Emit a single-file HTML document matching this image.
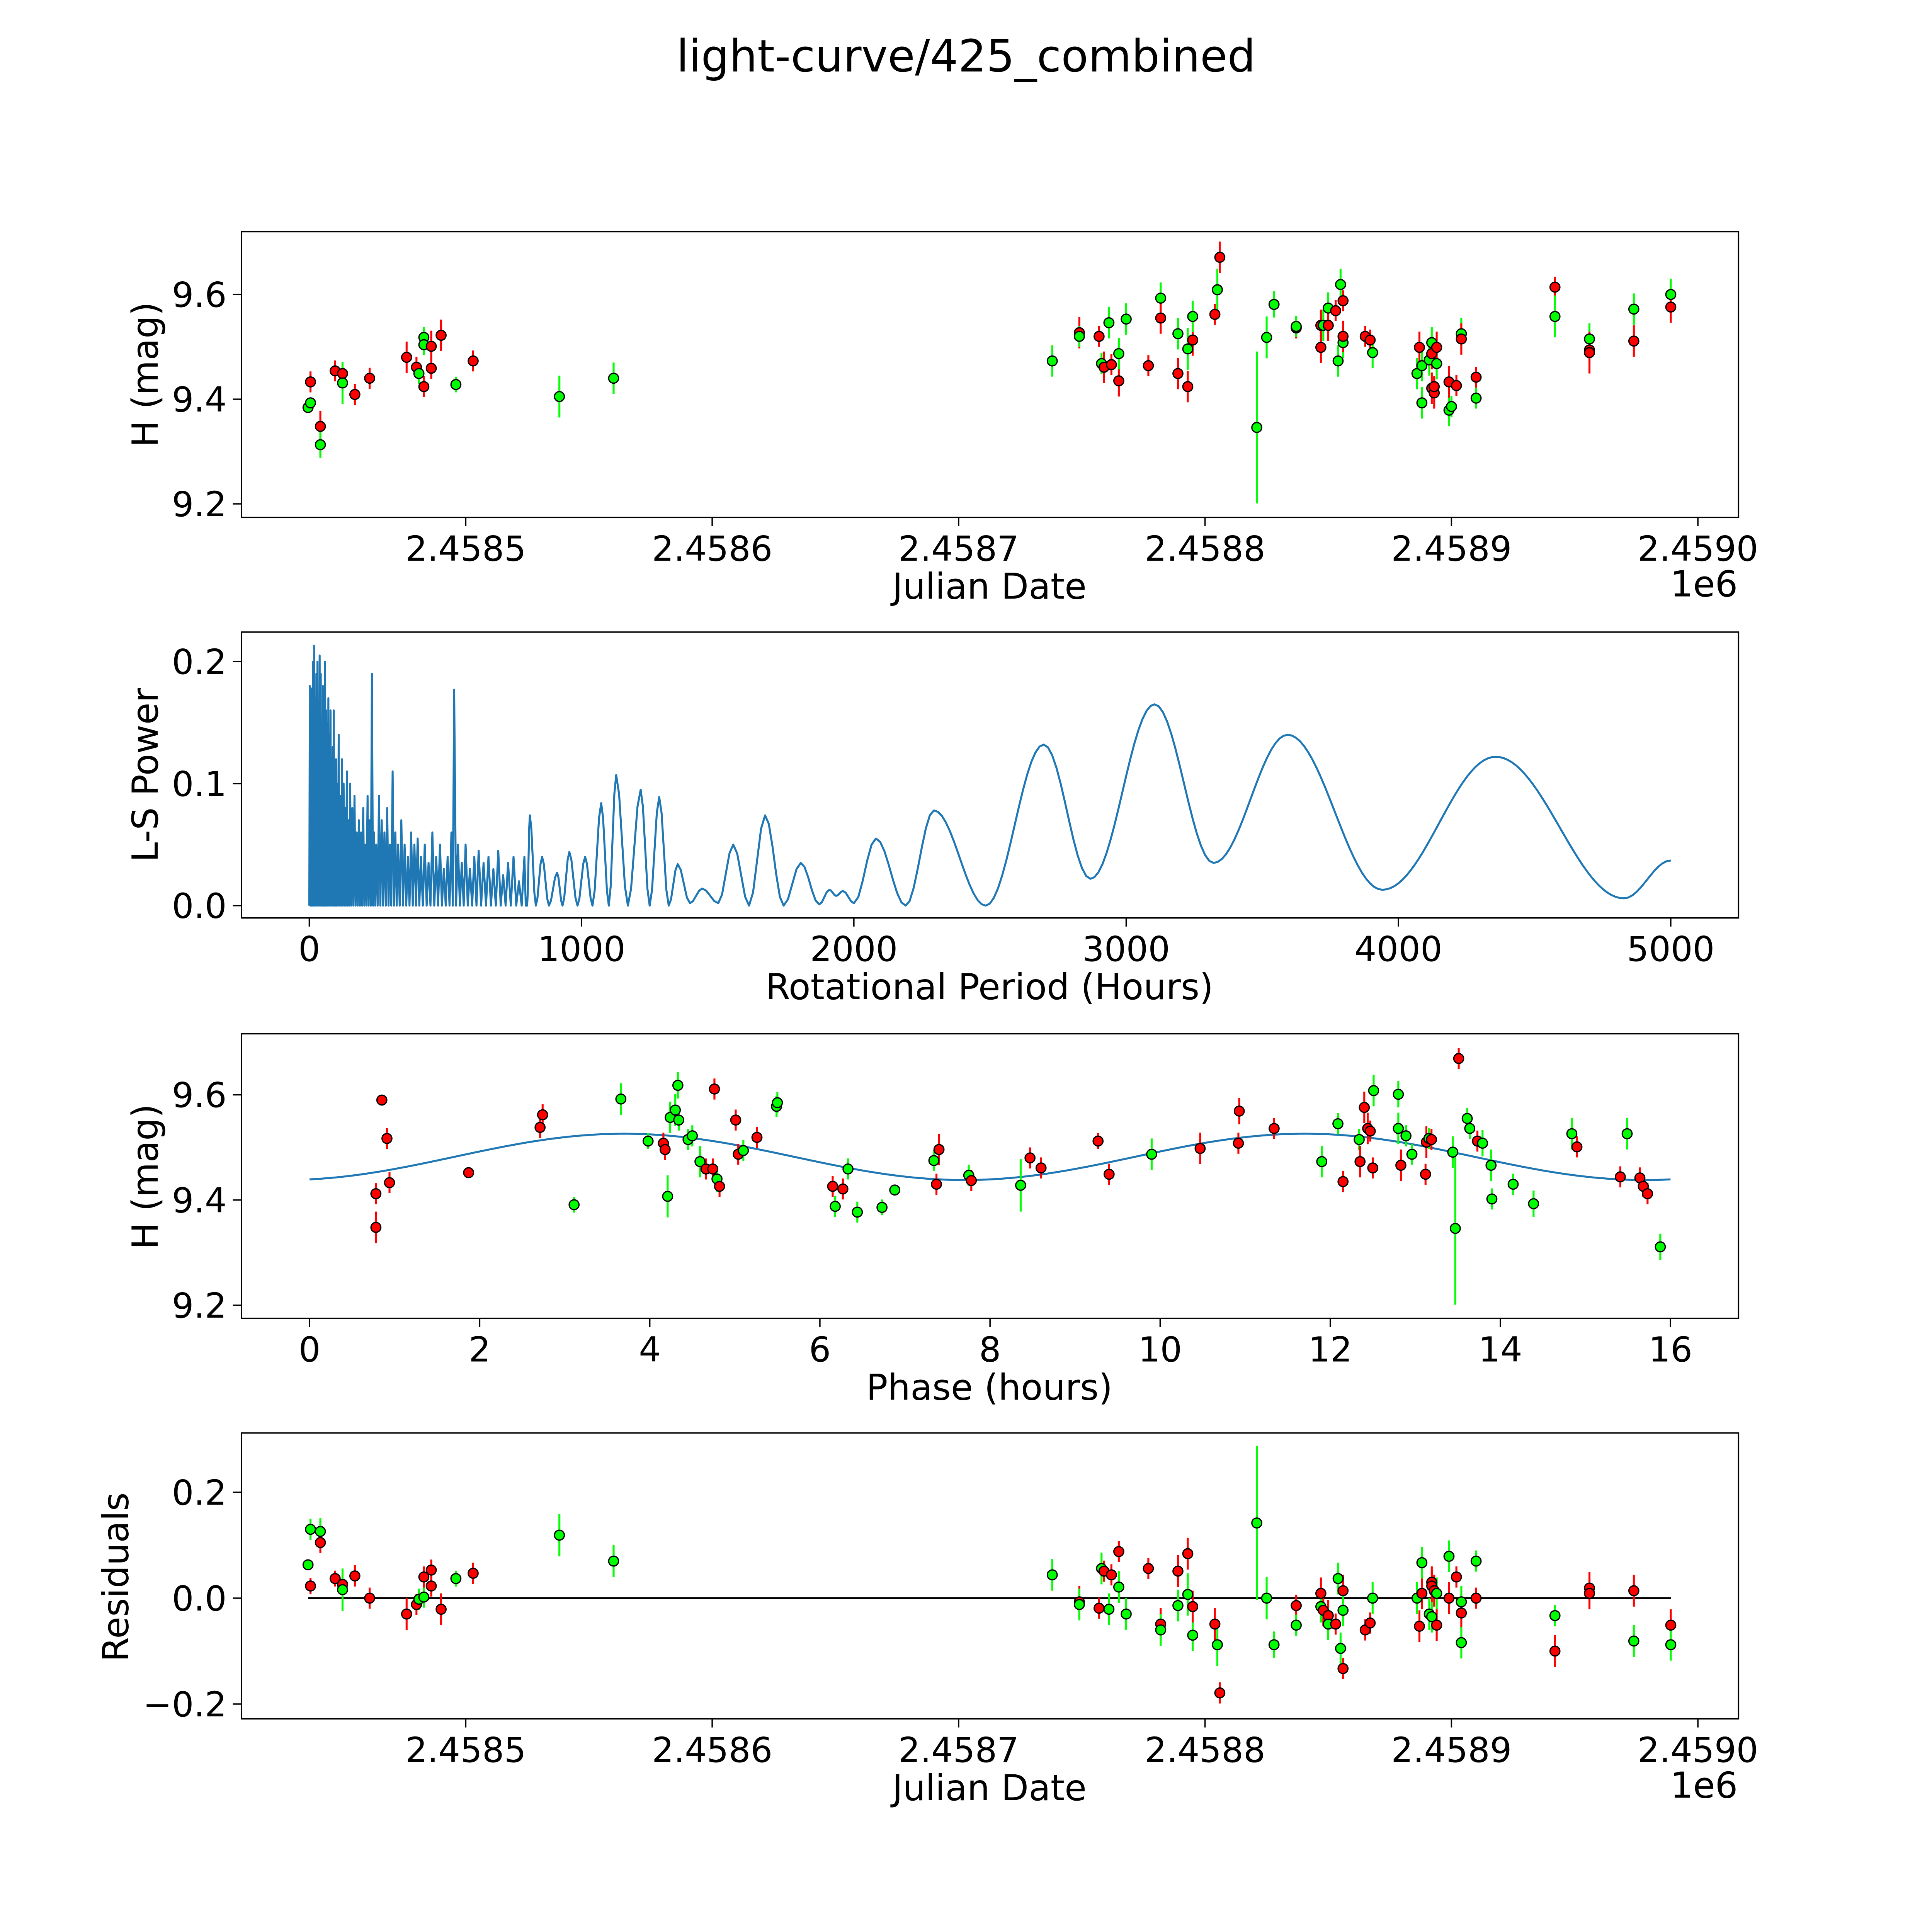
<!DOCTYPE html>
<html><head><meta charset="utf-8">
<style>
html,body{margin:0;padding:0;background:#fff;overflow:hidden;width:100vw;height:100vh;}
svg{display:block;width:100vw;height:100vh;}
text{font-family:"DejaVu Sans","Liberation Sans",sans-serif;fill:#000;}
</style></head>
<body>
<svg id="fig" xmlns="http://www.w3.org/2000/svg" viewBox="0 0 1568 1568" preserveAspectRatio="xMidYMid meet">
<rect x="0" y="0" width="1568" height="1568" fill="#fff"/>
<text x="784" y="58" font-size="36" text-anchor="middle">light-curve/425_combined</text>
</svg>
<script>
// ---- Panel 1: light curve (JD - 2458000) ----
const p1Jd=[436,437,437,441,441,447,450,450,455,461,476,480,481,483,483,483,486,486,490,496,503,538,560,738,749,749,757,758,759,761,762,765,765,768,777,782,782,789,789,793,793,795,795,804,805,806,821,825,828,837,837,847,847,848,850,850,853,854,855,856,856,856,865,867,868,886,887,888,888,891,892,892,892,893,893,894,894,899,900,899,902,904,904,910,910,942,942,956,956,956,974,974,989,989];
const p1Mag=[9.384,9.393,9.433,9.348,9.313,9.454,9.449,9.431,9.409,9.440,9.480,9.461,9.449,9.424,9.518,9.504,9.459,9.501,9.522,9.428,9.473,9.405,9.440,9.473,9.527,9.520,9.520,9.468,9.461,9.546,9.466,9.435,9.487,9.553,9.464,9.593,9.555,9.525,9.449,9.496,9.424,9.513,9.558,9.562,9.609,9.671,9.346,9.518,9.581,9.536,9.539,9.541,9.499,9.541,9.574,9.541,9.569,9.473,9.619,9.588,9.508,9.520,9.520,9.513,9.489,9.449,9.499,9.464,9.393,9.475,9.421,9.508,9.487,9.412,9.424,9.468,9.499,9.379,9.386,9.433,9.426,9.525,9.515,9.402,9.442,9.614,9.558,9.515,9.494,9.489,9.572,9.511,9.600,9.576];
const p1Col="ggrrgrrgrrrrgrggrrrgrgggrgrgrgrrggrgrgrgrrgrgrgggrgrrggrrggrgrrrggrgggrgrrrgrggrrgrgrrggrrgrgr";
const p1Err=[.01,.01,.02,.03,.025,.02,.02,.04,.02,.02,.03,.02,.02,.02,.02,.02,.02,.03,.03,.015,.02,.04,.03,.03,.03,.02,.02,.02,.03,.03,.02,.03,.03,.03,.02,.03,.03,.03,.03,.04,.03,.03,.03,.02,.04,.03,.145,.04,.025,.02,.02,.03,.03,.03,.03,.03,.02,.03,.03,.02,.03,.03,.02,.02,.03,.03,.03,.03,.03,.03,.03,.03,.03,.03,.02,.03,.03,.03,.02,.03,.02,.03,.03,.02,.02,.02,.04,.03,.03,.04,.03,.03,.03,.03];
const p1XTicks=[500,600,700,800,900,1000];
const p1XLabels=["2.4585","2.4586","2.4587","2.4588","2.4589","2.4590"];
const magTicks=[9.2,9.4,9.6];
const magLabels=["9.2","9.4","9.6"];

// ---- Panel 2: Lomb-Scargle periodogram ----
const lsSpikeP=[2,6,10,14,18,22,26,30,34,38,42,46,50,54,58,62,66,70,74,78,82,86,90,94,98,102,108,114,120,126,132,138,144,150,158,166,174,182,190,198,206,214,222,230,238,246,256,266,276,286,296,306,316,326,338,350,362,374,386,398,410,424,438,452,466,480,494,508,522,532,546,560,574,590,606,622,640,658,676,694,712,730,750,770,790];
const lsSpikeV=[.18,.16,.178,.2,.213,.17,.19,.2,.16,.205,.19,.15,.18,.14,.2,.16,.15,.17,.14,.16,.12,.13,.16,.11,.12,.1,.14,.09,.12,.1,.08,.11,.07,.1,.08,.09,.06,.07,.06,.08,.05,.09,.07,.19,.06,.05,.09,.07,.06,.08,.05,.11,.06,.05,.07,.05,.04,.06,.05,.055,.04,.05,.035,.06,.04,.05,.03,.04,.06,.177,.05,.035,.05,.03,.04,.045,.035,.04,.03,.045,.025,.035,.04,.02,.04];
const lsExtP=[800,810,832,855,880,910,930,955,985,1013,1040,1072,1100,1127,1170,1217,1250,1285,1320,1353,1398,1443,1502,1557,1615,1674,1742,1805,1873,1910,1935,1960,2000,2081,2190,2294,2484,2697,2869,3104,3321,3593,3941,4357,4828,5000];
const lsExtV=[0,.074,0,.04,0,.027,0,.044,0,.04,0,.084,0,.107,0,.095,0,.089,0,.034,.002,.014,.002,.05,0,.074,0,.035,.001,.013,.008,.012,.002,.055,0,.078,0,.132,.022,.165,.035,.14,.013,.122,.006,.037];
const lsXTicks=[0,1000,2000,3000,4000,5000];
const lsYTicks=[0,0.1,0.2];
const lsYLabels=["0.0","0.1","0.2"];

// ---- Panel 3: phased light curve ----
const phPhase=[.78,.78,.85,.91,.94,1.87,2.71,2.74,3.11,3.66,3.98,4.16,4.18,4.21,4.24,4.30,4.33,4.34,4.76,4.45,4.50,4.59,4.66,4.74,4.79,4.82,5.01,5.04,5.10,5.26,5.49,5.50,6.15,6.18,6.27,6.33,6.44,6.73,6.88,7.34,7.37,7.40,7.75,7.78,8.36,8.47,8.60,9.27,9.40,9.90,10.47,10.92,10.93,11.34,11.90,12.09,12.15,12.34,12.35,12.40,12.44,12.47,12.51,12.50,12.80,12.80,12.83,12.89,12.96,13.12,13.13,13.16,13.19,13.44,13.47,13.51,13.61,13.64,13.73,13.79,13.89,13.90,14.15,14.39,14.84,14.90,15.41,15.49,15.64,15.68,15.73,15.88];
const phMag=[9.412,9.348,9.590,9.517,9.433,9.452,9.538,9.562,9.391,9.592,9.512,9.508,9.496,9.407,9.557,9.571,9.618,9.552,9.611,9.515,9.522,9.473,9.459,9.459,9.440,9.426,9.552,9.487,9.494,9.519,9.578,9.585,9.426,9.388,9.421,9.459,9.377,9.386,9.419,9.475,9.430,9.496,9.447,9.437,9.428,9.480,9.461,9.512,9.449,9.487,9.498,9.508,9.569,9.536,9.473,9.545,9.435,9.515,9.473,9.576,9.536,9.531,9.608,9.461,9.601,9.536,9.466,9.522,9.487,9.449,9.510,9.517,9.515,9.491,9.346,9.669,9.555,9.536,9.512,9.508,9.466,9.402,9.430,9.393,9.526,9.501,9.444,9.526,9.442,9.426,9.412,9.311];
const phCol="rrrrrrrrgggrrgggggrgggrrgrrrgrggrgrgggggrrgrgrrrrgrrrrggrgrrrrgrggrggrrgrggrggrggggggrrgrrrg";
const phErr=[.02,.03,.01,.02,.02,.01,.02,.02,.015,.03,.015,.02,.02,.04,.03,.03,.025,.02,.02,.02,.02,.03,.02,.02,.025,.02,.02,.02,.02,.02,.02,.02,.02,.02,.02,.02,.02,.015,.01,.02,.02,.03,.02,.02,.05,.02,.02,.015,.02,.03,.03,.02,.025,.02,.03,.02,.02,.02,.03,.03,.03,.02,.03,.02,.025,.03,.03,.02,.02,.02,.03,.02,.02,.03,.145,.02,.02,.02,.02,.025,.03,.02,.02,.025,.03,.02,.02,.03,.02,.02,.02,.025];
const phModelMean=[9.482];
const phModelAmp=[0.044];
const phModelPeak=[3.7];
const phModelPeriod=[8];
const phXTicks=[0,2,4,6,8,10,12,14,16];

// ---- Panel 4: residuals ----
const resJd=[436,437,437,441,441,447,450,450,455,461,476,480,481,483,483,486,486,490,496,503,538,560,738,749,749,757,758,759,761,762,765,765,768,777,782,782,789,789,793,793,795,795,804,805,806,821,825,828,837,837,847,847,848,850,850,854,853,855,856,856,856,865,867,868,886,887,888,888,891,892,892,892,893,894,894,899,899,902,904,904,904,910,910,942,942,956,956,974,974,989,989];
const resVal=[.063,.130,.023,.126,.105,.037,.026,.016,.042,0,-.030,-.012,-.002,.002,.040,.053,.023,-.021,.037,.047,.119,.070,.044,-.007,-.012,-.019,.056,.051,-.021,.044,.088,.021,-.030,.056,-.049,-.060,.051,-.014,.084,.007,-.070,-.016,-.049,-.088,-.179,.142,0,-.088,-.014,-.051,.009,-.016,-.023,-.033,-.049,.037,-.049,-.095,.014,-.023,-.133,-.060,-.047,0,0,-.053,.009,.067,-.030,.030,-.035,.023,.014,.009,-.051,.079,0,.040,-.028,-.007,-.084,0,.070,-.033,-.100,.019,.009,.014,-.081,-.051,-.088];
const resCol="ggrgrrrgrrrrggrrrrgrgggrgrgrgrrggrrgrgrggrrgrgggrgrgrrggrgrgrrrggrrggrgrrgrgrrrggrggrrrrgrg";
const resErr=[.01,.02,.015,.025,.02,.015,.02,.04,.02,.02,.03,.02,.02,.02,.02,.02,.02,.03,.015,.02,.04,.03,.03,.03,.03,.02,.03,.02,.03,.02,.02,.03,.03,.02,.03,.03,.03,.03,.03,.04,.03,.03,.03,.04,.02,.145,.04,.025,.02,.02,.03,.03,.03,.03,.03,.03,.02,.03,.03,.03,.02,.02,.02,.03,.03,.03,.03,.03,.03,.03,.03,.03,.03,.03,.03,.03,.03,.02,.03,.03,.03,.02,.02,.02,.03,.03,.03,.03,.03,.03,.03];
const resYTicks=[-0.2,0,0.2];
const resYLabels=["\u22120.2","0.0","0.2"];

const NS="http://www.w3.org/2000/svg";
const svg=document.getElementById('fig');
function mk(tag,attrs,parent){const e=document.createElementNS(NS,tag);for(const k in attrs)e.setAttribute(k,attrs[k]);(parent||svg).appendChild(e);return e;}
function lin(d0,d1,r0,r1){return v=>r0+(v-d0)*(r1-r0)/(d1-d0);}

const L=196,R=1411;
const FS=28;
const AX=[{t:188,b:420},{t:513,b:745},{t:839,b:1070},{t:1163,b:1395}];
const jdX=lin(409,1016.5,L,R);
const p1Y=lin(9.174,9.72,420,188);
const lsX=lin(-249,5249,L,R);
const lsY=lin(-0.0101,0.2242,745,513);
const phX=lin(-0.8,16.8,L,R);
const phY=lin(9.175,9.716,1070,839);
const resY=lin(-0.228,0.312,1395,1163);

function frame(i,name){
  const a=AX[i];
  const r=mk('rect',{x:L,y:a.t,width:R-L,height:a.b-a.t,fill:'none',stroke:'#000','stroke-width':1.1});
  
  
}
function xticks(i,vals,labels,sx,name){
  const a=AX[i];
  const g=mk('g',{});
  
  
  vals.forEach((v,k)=>{
    const x=sx(v);
    mk('line',{x1:x,x2:x,y1:a.b,y2:a.b+7,stroke:'#000','stroke-width':1.1},g);
    const t=mk('text',{x:x,y:a.b+35,'font-size':FS,'text-anchor':'middle'},g);
    t.textContent=labels[k];
    
    
  });
}
function yticks(i,vals,labels,sy,name){
  const a=AX[i];
  const g=mk('g',{});
  
  
  vals.forEach((v,k)=>{
    const y=sy(v);
    mk('line',{x1:L-7,x2:L,y1:y,y2:y,stroke:'#000','stroke-width':1.1},g);
    const t=mk('text',{x:L-12,y:y+10,'font-size':FS,'text-anchor':'end'},g);
    t.textContent=labels[k];
    
    
  });
}
function label(txt,x,y,rot,name){
  const t=mk('text',{x:x,y:y,'font-size':29,'text-anchor':'middle',transform:rot?`rotate(-90 ${x} ${y})`:''});
  t.textContent=txt;
  
  
}
function points(xs,ys,cols,errs,sx,sy,name){
  const g=mk('g',{});
  
  
  xs.forEach((xv,k)=>{
    const c=cols[k]==='r'?'#ff0000':'#00ff00';
    const x=sx(xv);
    mk('line',{x1:x,x2:x,y1:sy(ys[k]-errs[k]),y2:sy(ys[k]+errs[k]),stroke:c,'stroke-width':1.6},g);
  });
  xs.forEach((xv,k)=>{
    const c=cols[k]==='r'?'#ff0000':'#00ff00';
    const p=mk('circle',{cx:sx(xv),cy:sy(ys[k]),r:4,fill:c,stroke:'#000','stroke-width':1},g);
    
    
  });
}

// Panel 1
frame(0,'light-curve');
xticks(0,p1XTicks,p1XLabels,jdX,'light-curve');
yticks(0,magTicks,magLabels,p1Y,'light-curve');
points(p1Jd,p1Mag,p1Col,p1Err,jdX,p1Y,'light-curve-points');
label('Julian Date',803,486,false,'light-curve-x-title');
label('H (mag)',128,304,true,'light-curve-y-title');
label('1e6',1383,484,false,'light-curve-offset-text');

// Panel 2
frame(1,'periodogram');
xticks(1,lsXTicks,lsXTicks.map(String),lsX,'periodogram');
yticks(1,lsYTicks,lsYLabels,lsY,'periodogram');
label('Rotational Period (Hours)',803,811,false,'periodogram-x-title');
label('L-S Power',128,629,true,'periodogram-y-title');
(function(){
  let d=`M${lsX(0)},${lsY(0)}`;
  for(let k=0;k<lsSpikeP.length;k++){
    d+=` L${lsX(lsSpikeP[k]).toFixed(2)},${lsY(lsSpikeV[k]).toFixed(2)}`;
    const nx=k+1<lsSpikeP.length?(lsSpikeP[k]+lsSpikeP[k+1])/2:lsSpikeP[k]+5;
    d+=` L${lsX(nx).toFixed(2)},${lsY(0).toFixed(2)}`;
  }
  for(let k=0;k<lsExtP.length;k++){
    if(k===0){d+=` L${lsX(lsExtP[0]).toFixed(2)},${lsY(lsExtV[0]).toFixed(2)}`;continue;}
    const p0=lsExtP[k-1],p1=lsExtP[k],v0=lsExtV[k-1],v1=lsExtV[k];
    const n=Math.max(4,Math.round((p1-p0)/15));
    for(let s=1;s<=n;s++){
      const f=s/n, e=(1-Math.cos(Math.PI*f))/2;
      d+=` L${lsX(p0+(p1-p0)*f).toFixed(2)},${lsY(v0+(v1-v0)*e).toFixed(2)}`;
    }
  }
  const path=mk('path',{d:d,fill:'none',stroke:'#1f77b4','stroke-width':1.6,'stroke-linejoin':'round'});
  
  
})();

// Panel 3
frame(2,'phase-plot');
xticks(2,phXTicks,phXTicks.map(String),phX,'phase-plot');
yticks(2,magTicks,magLabels,phY,'phase-plot');
label('Phase (hours)',803,1136,false,'phase-plot-x-title');
label('H (mag)',128,955,true,'phase-plot-y-title');
(function(){
  let d='';
  for(let s=0;s<=320;s++){
    const ph=16*s/320;
    const m=phModelMean[0]+phModelAmp[0]*Math.cos(2*Math.PI*(ph-phModelPeak[0])/phModelPeriod[0]);
    d+=(s?' L':'M')+phX(ph).toFixed(2)+','+phY(m).toFixed(2);
  }
  const path=mk('path',{d:d,fill:'none',stroke:'#1f77b4','stroke-width':1.6});
  
  
})();
points(phPhase,phMag,phCol,phErr,phX,phY,'phase-points');

// Panel 4
frame(3,'residuals');
xticks(3,p1XTicks,p1XLabels,jdX,'residuals');
yticks(3,resYTicks,resYLabels,resY,'residuals');
label('Julian Date',803,1461,false,'residuals-x-title');
label('Residuals',104,1280,true,'residuals-y-title');
label('1e6',1383,1459,false,'residuals-offset-text');
(function(){
  const zl=mk('line',{x1:jdX(resJd[0]),x2:jdX(resJd[resJd.length-1]),y1:resY(0),y2:resY(0),stroke:'#000','stroke-width':1.6});
  
  
})();
points(resJd,resVal,resCol,resErr,jdX,resY,'residual-points');
</script>
</body></html>
